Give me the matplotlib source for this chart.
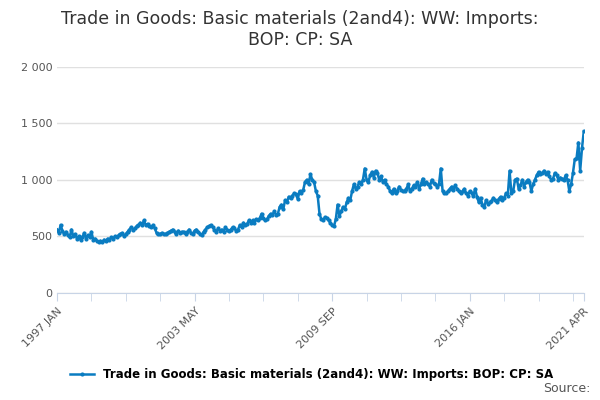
import matplotlib
matplotlib.use("Agg")
import matplotlib.pyplot as plt
import numpy as np
from matplotlib.ticker import FuncFormatter

values = [
560,530,600,550,520,540,510,490,560,500,520,480,
500,470,490,530,480,510,490,540,470,480,460,450,
460,450,470,460,480,470,490,480,500,490,510,520,
530,500,520,540,560,580,560,570,590,600,620,600,
640,600,610,590,580,600,570,530,520,520,530,520,
520,530,540,550,560,540,520,550,530,540,540,520,
540,560,530,520,550,560,540,520,510,540,560,580,
590,600,580,560,540,570,550,560,540,580,560,550,
560,580,570,550,560,600,580,620,600,610,640,620,
640,620,650,640,660,700,660,640,650,680,700,690,
720,690,700,760,780,740,820,800,850,840,860,880,
870,830,900,880,910,980,1000,960,1050,1000,980,900,
860,700,650,640,670,660,640,620,600,590,650,780,
680,720,760,740,800,840,820,900,960,920,940,980,
960,1000,1100,1000,980,1040,1070,1020,1080,1060,1000,1030,
980,1000,960,940,900,880,920,880,900,940,910,900,
900,920,960,900,920,950,940,980,920,960,1010,960,
980,960,940,1000,970,960,940,960,1100,900,880,880,
900,920,940,910,950,920,900,880,900,920,880,860,
900,880,860,920,850,800,840,780,760,820,790,800,
810,840,820,800,830,850,820,840,880,860,1080,880,
900,1000,1010,920,950,1000,940,980,1000,980,900,960,
1000,1040,1070,1050,1060,1080,1050,1070,1030,1000,1010,1060,
1040,1000,1020,1010,1000,1040,1000,900,960,1060,1180,1190,
1330,1080,1280,1430]

tick_idx = [0, 76, 152, 228, 291]
tick_labels = ["1997 JAN", "2003 MAY", "2009 SEP", "2016 JAN", "2021 APR"]
series_name = "Trade in Goods: Basic materials (2and4): WW: Imports: BOP: CP: SA"

fig = plt.figure(figsize=(6, 4), dpi=100)
ax = fig.add_axes([0.095, 0.268, 0.878, 0.565])
x = np.arange(len(values))
ax.plot(x, values, color="#0a7cc1", lw=1.8, marker="o", ms=2, label=series_name)
ax.set_xlim(0, len(values) - 1)
ax.set_ylim(0, 2000)
ax.set_yticks([0, 500, 1000, 1500, 2000])
ax.yaxis.set_major_formatter(FuncFormatter(lambda v, p: f"{int(v):,}".replace(",", " ")))
ax.grid(axis="y", color="#e0e0e0", lw=1)
ax.set_xticks(np.arange(0, 292, 19), minor=True)
ax.set_xticks(tick_idx)
ax.set_xticklabels(tick_labels, rotation=45, ha="right", rotation_mode="anchor", fontsize=8, color="#555555")
ax.tick_params(axis="x", which="both", length=6, color="#c8d4e6")
ax.tick_params(axis="y", length=0, labelsize=8, labelcolor="#555555")
for s in ["top", "right", "left"]:
    ax.spines[s].set_visible(False)
ax.spines["bottom"].set_color("#c8d4e6")
fig.suptitle("Trade in Goods: Basic materials (2and4): WW: Imports:\nBOP: CP: SA",
             y=0.975, fontsize=12.5, color="#333333")
fig.legend(loc="lower center", bbox_to_anchor=(0.52, 0.02), frameon=False,
           prop={"size": 8.5, "weight": "bold"}, handlelength=2)
fig.text(0.985, 0.02, "Source:", ha="right", fontsize=9, color="#555555")
fig.savefig("out.png")
